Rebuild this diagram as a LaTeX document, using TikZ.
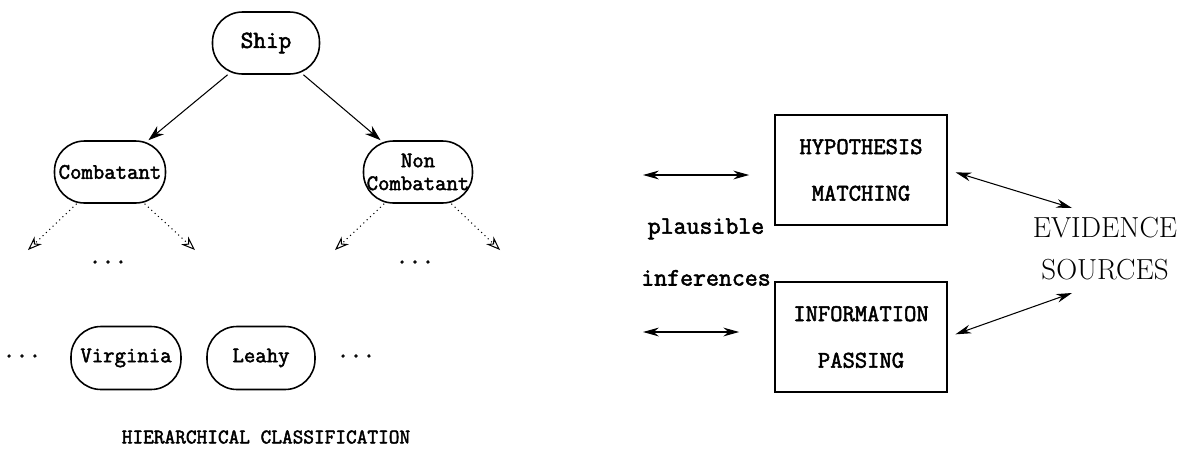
\documentclass[tikz,border=0pt]{standalone}
\usepackage{fontspec}
\newfontfamily\heavytt{Latin Modern Mono}[FakeBold=2.2]
\usepackage{tikz}
\usetikzlibrary{arrows.meta,positioning}
\tikzset{
  class/.style={draw, line width=0.9pt, rounded corners=0.6cm, minimum height=1.24cm,
    inner xsep=1pt, align=center, font=\heavytt\fontsize{12.6}{13}\selectfont},
  module/.style={draw, line width=1pt, minimum width=3.44cm, minimum height=2.2cm,
    align=center, font=\heavytt\fontsize{13.6}{26.5}\selectfont},
  ttlabel/.style={font=\heavytt\fontsize{14.3}{29.5}\selectfont, align=center},
  isa/.style={-{Stealth[length=9pt,width=6pt]}, semithick},
  more/.style={-{Stealth[length=8pt,width=6pt,open]}, dotted, semithick},
  link/.style={{Stealth[length=9pt,width=5pt]}-{Stealth[length=9pt,width=5pt]}, semithick}
}
\begin{document}
\begin{tikzpicture}[x=0.02cm, y=-0.02cm]
\useasboundingbox (0,0) rectangle (1186,450);

% classification tree
\node[class, minimum width=2.14cm, font=\heavytt\fontsize{14}{14}\selectfont] (ship) at (266,43) {Ship};
\node[class, minimum width=2.22cm] (comb) at (110,172) {Combatant};
\node[class, minimum width=2.18cm] (noncomb) at (418,172) {Non\\Combatant};

\draw[isa] (ship) -- (comb);
\draw[isa] (ship) -- (noncomb);

\coordinate (c1) at (28,250);
\coordinate (c2) at (195,250);
\coordinate (n1) at (335,250);
\coordinate (n2) at (500,250);
\draw[more] (comb) -- (c1);
\draw[more] (comb) -- (c2);
\draw[more] (noncomb) -- (n1);
\draw[more] (noncomb) -- (n2);

\node[ttlabel] (dotsc) at (108,262) {...};
\node[ttlabel] (dotsn) at (415,262) {...};

% leaves
\node[ttlabel] (dotsl) at (22,356) {...};
\node[class, minimum width=2.2cm, minimum height=1.26cm] (virginia) at (126,358) {Virginia};
\node[class, minimum width=2.16cm, minimum height=1.26cm] (leahy) at (261,358) {Leahy};
\node[ttlabel] (dotsr) at (356,356) {...};

\node[font=\heavytt\fontsize{11.8}{14}\selectfont] (title) at (266,437) {HIERARCHICAL CLASSIFICATION};

% inference modules
\node[module] (hyp) at (861,170) {HYPOTHESIS\\MATCHING};
\node[module] (info) at (861,337) {INFORMATION\\PASSING};

\node[ttlabel] (plaus) at (706,252) {plausible\\inferences};

\coordinate (p1) at (643,175);
\coordinate (p2) at (643,332);
\draw[link, shorten >=0.5cm] (p1) -- (p1 -| hyp.west);
\draw[link, shorten >=0.7cm] (p2) -- (p2 -| info.west);

\node[font=\fontsize{16.5}{24}\selectfont, align=center] (evid) at (1105,249) {EVIDENCE\\SOURCES};

\coordinate (e1) at (1072,208);
\coordinate (e2) at (1072,293);
\draw[link, shorten <=0.16cm] (hyp.east) -- (e1);
\draw[link, shorten <=0.16cm] (info.east) -- (e2);
\end{tikzpicture}
\end{document}
